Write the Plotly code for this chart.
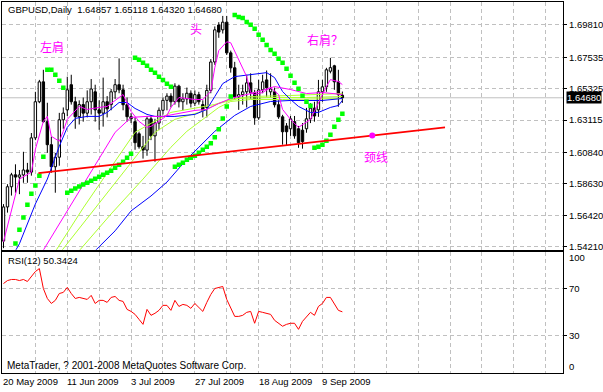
import plotly.graph_objects as go

# ---------------- data ----------------
date_labels = ["20 May 2009", "11 Jun 2009", "3 Jul 2009", "27 Jul 2009", "18 Aug 2009", "9 Sep 2009"]
date_label_bars = [0, 16, 32, 48, 64, 80]

opens = [1.5460, 1.5700, 1.5842, 1.5926, 1.5910, 1.5925, 1.5960, 1.5945, 1.6186, 1.6440,
         1.6580, 1.6300, 1.6138, 1.5983, 1.6050, 1.6313, 1.6383, 1.6560, 1.6440, 1.6335,
         1.6420, 1.6360, 1.6440, 1.6510, 1.6383, 1.6360, 1.6440, 1.6420, 1.6510, 1.6560,
         1.6524, 1.6419, 1.6335, 1.6300, 1.6215, 1.6124, 1.6100, 1.6320, 1.6200, 1.6290,
         1.6380, 1.6450, 1.6480, 1.6440, 1.6550, 1.6440, 1.6460, 1.6500, 1.6430, 1.6490,
         1.6420, 1.6400, 1.6520, 1.6720, 1.6980, 1.6946, 1.7000, 1.6784, 1.6679, 1.6475,
         1.6490, 1.6510, 1.6573, 1.6503, 1.6327, 1.6524, 1.6594, 1.6510, 1.6510, 1.6419,
         1.6334, 1.6270, 1.6250, 1.6300, 1.6250, 1.6240, 1.6250, 1.6320, 1.6395, 1.6383,
         1.6510, 1.6545, 1.6655, 1.6693, 1.6580, 1.64857]
highs = [1.5720, 1.5860, 1.5940, 1.6000, 1.5960, 1.6088, 1.6010, 1.6220, 1.6510, 1.6594,
         1.6665, 1.6433, 1.6194, 1.6080, 1.6362, 1.6400, 1.6616, 1.6630, 1.6475, 1.6450,
         1.6470, 1.6520, 1.6600, 1.6560, 1.6450, 1.6610, 1.6480, 1.6530, 1.6600, 1.6745,
         1.6560, 1.6470, 1.6360, 1.6330, 1.6230, 1.6200, 1.6340, 1.6345, 1.6320, 1.6400,
         1.6470, 1.6500, 1.6500, 1.6570, 1.6560, 1.6500, 1.6540, 1.6520, 1.6520, 1.6510,
         1.6450, 1.6560, 1.6740, 1.6970, 1.7000, 1.7044, 1.7044, 1.6800, 1.6721, 1.6560,
         1.6560, 1.6630, 1.6640, 1.6524, 1.6594, 1.6630, 1.6660, 1.6640, 1.6540, 1.6450,
         1.6348, 1.6290, 1.6340, 1.6340, 1.6270, 1.6290, 1.6397, 1.6430, 1.6440, 1.6594,
         1.6594, 1.6679, 1.6749, 1.6700, 1.6665, 1.65118]
lows = [1.5410, 1.5660, 1.5780, 1.5800, 1.5790, 1.5870, 1.5870, 1.5920, 1.6170, 1.6430,
        1.6293, 1.6081, 1.5941, 1.5800, 1.5990, 1.6250, 1.6340, 1.6420, 1.6250, 1.6280,
        1.6300, 1.6330, 1.6350, 1.6300, 1.6243, 1.6265, 1.6330, 1.6380, 1.6460, 1.6500,
        1.6380, 1.6300, 1.6290, 1.6102, 1.6110, 1.6040, 1.6060, 1.6170, 1.6018, 1.6240,
        1.6350, 1.6380, 1.6400, 1.6420, 1.6400, 1.6380, 1.6420, 1.6400, 1.6410, 1.6420,
        1.6330, 1.6330, 1.6500, 1.6700, 1.6890, 1.6920, 1.6770, 1.6645, 1.6454, 1.6383,
        1.6420, 1.6400, 1.6460, 1.6278, 1.6313, 1.6500, 1.6475, 1.6470, 1.6400, 1.6320,
        1.6138, 1.6131, 1.6200, 1.6180, 1.6116, 1.6110, 1.6222, 1.6290, 1.6300, 1.6334,
        1.6440, 1.6510, 1.6640, 1.6524, 1.6405, 1.64320]
closes = [1.5700, 1.5842, 1.5926, 1.5910, 1.5925, 1.5960, 1.5945, 1.6186, 1.6440, 1.6580,
          1.6300, 1.6138, 1.5983, 1.6050, 1.6313, 1.6360, 1.6524, 1.6440, 1.6335, 1.6420,
          1.6360, 1.6440, 1.6530, 1.6383, 1.6360, 1.6440, 1.6390, 1.6510, 1.6560, 1.6524,
          1.6419, 1.6335, 1.6320, 1.6152, 1.6124, 1.6100, 1.6320, 1.6200, 1.6290, 1.6380,
          1.6450, 1.6480, 1.6440, 1.6550, 1.6440, 1.6460, 1.6500, 1.6430, 1.6490, 1.6440,
          1.6380, 1.6520, 1.6720, 1.6946, 1.6930, 1.7000, 1.6784, 1.6679, 1.6475, 1.6490,
          1.6510, 1.6573, 1.6503, 1.6327, 1.6524, 1.6580, 1.6538, 1.6530, 1.6419, 1.6334,
          1.6229, 1.6229, 1.6320, 1.6200, 1.6152, 1.6160, 1.6320, 1.6395, 1.6340, 1.6510,
          1.6545, 1.6665, 1.6680, 1.6580, 1.6490, 1.64680]

# moving averages (bar index, price)
ma_fast_bars = [0, 2, 4, 7, 8, 10, 11, 12, 14, 15, 16, 19, 21, 24, 26, 29, 30, 32, 34, 36, 37, 39, 41, 42,
                44, 48, 50, 52, 53, 54, 56, 57, 59, 61, 62, 63, 65, 67, 69, 70, 72, 74, 77, 79, 81, 82, 84, 85]
ma_fast_vals = [1.5455, 1.5686, 1.5896, 1.5945, 1.6106, 1.6302, 1.6337, 1.6197, 1.6162, 1.6232, 1.6316,
                1.6407, 1.6386, 1.6400, 1.6407, 1.6470, 1.6491, 1.6372, 1.6302, 1.6260, 1.6267, 1.6302,
                1.6344, 1.6400, 1.6470, 1.6456, 1.6456, 1.6512, 1.6680, 1.6800, 1.6862, 1.6855, 1.6736,
                1.6617, 1.6505, 1.6491, 1.6505, 1.6540, 1.6491, 1.6386, 1.6316, 1.6260, 1.6316, 1.6435,
                1.6547, 1.6596, 1.6582, 1.6561]
ma_slow_bars = [9, 20, 28, 32, 36, 40, 44, 48, 51, 54, 57, 60, 64, 68, 72, 76, 80, 85]
ma_slow_vals = [1.5350, 1.5861, 1.6225, 1.6330, 1.6337, 1.6337, 1.6358, 1.6379, 1.6386, 1.6428, 1.6463,
                1.6484, 1.6512, 1.6547, 1.6526, 1.6498, 1.6505, 1.6491]
blue_fast_bars = [3, 4, 8, 11, 14, 16, 18, 21, 24, 26, 29, 31, 33, 36, 38, 43, 48, 51, 53, 55, 58, 62,
                  66, 68, 70, 72, 74, 77, 79, 82, 84, 85]
blue_fast_vals = [1.5392, 1.5441, 1.5721, 1.5896, 1.6127, 1.6260, 1.6323, 1.6337, 1.6337, 1.6365, 1.6435,
                  1.6435, 1.6393, 1.6351, 1.6337, 1.6337, 1.6351, 1.6386, 1.6477, 1.6568, 1.6617, 1.6631,
                  1.6645, 1.6610, 1.6512, 1.6456, 1.6407, 1.6365, 1.6365, 1.6400, 1.6414, 1.6449]
blue_slow_bars = [22, 28, 32, 37, 41, 46, 49, 53, 58, 62, 67, 72, 80, 85]
blue_slow_vals = [1.5364, 1.5532, 1.5672, 1.5777, 1.5875, 1.6036, 1.6120, 1.6232, 1.6344, 1.6407, 1.6442,
                  1.6449, 1.6449, 1.6463]
yg1_bars = [12, 20, 27, 33, 37, 42, 49, 53, 57, 62, 72, 80, 85]
yg1_vals = [1.5343, 1.5693, 1.5980, 1.6225, 1.6288, 1.6365, 1.6400, 1.6421, 1.6456, 1.6477, 1.6484, 1.6491, 1.6498]
yg2_bars = [14, 22, 30, 38, 43, 49, 54, 59, 67, 76, 85]
yg2_vals = [1.5371, 1.5658, 1.5945, 1.6225, 1.6316, 1.6365, 1.6428, 1.6463, 1.6470, 1.6470, 1.6477]
yg3_bars = [19, 27, 35, 42, 46, 50, 54, 57, 62, 70, 85]
yg3_vals = [1.5392, 1.5651, 1.5896, 1.6120, 1.6232, 1.6316, 1.6400, 1.6442, 1.6456, 1.6456, 1.6463]

sar = [None, None, None, 1.5442, 1.5540, 1.5625, 1.5716, 1.5793, 1.5850, 1.5920,
       1.6053, 1.6665, 1.6665, 1.6630, 1.6587, 1.6538, 1.5800, 1.5814, 1.5829, 1.5843,
       1.5857, 1.5871, 1.5885, 1.5899, 1.5913, 1.5927, 1.5941, 1.5955, 1.5976, 1.5997,
       1.6018, 1.6046, 1.6074, 1.6749, 1.6735, 1.6714, 1.6693, 1.6665, 1.6644, 1.6616,
       1.6594, 1.6566, 1.6545, 1.5983, 1.5997, 1.6011, 1.6032, 1.6046, 1.6060, 1.6081,
       1.6102, 1.6124, 1.6148, 1.6190, 1.6246, 1.6323, 1.6407, 1.6477, 1.7051, 1.7037,
       1.7030, 1.7002, 1.6981, 1.6953, 1.6911, 1.6876, 1.6840, 1.6805, 1.6777, 1.6742,
       1.6714, 1.6672, 1.6623, 1.6573, 1.6531, 1.6482, 1.6440, 1.6412, 1.6117, 1.6124,
       1.6138, 1.6166, 1.6208, 1.6264, 1.6313, 1.6355]

rsi = [74.2, 76.7, 77.6, 77.6, 76.7, 77.6, 75.9, 80.1, 84.3, 86.8,
       70.0, 61.6, 57.4, 60.0, 65.8, 66.7, 70.9, 65.8, 61.6, 62.5,
       61.6, 60.8, 64.2, 57.4, 60.0, 60.0, 58.3, 62.5, 63.3, 60.0,
       59.1, 52.4, 50.7, 48.2, 44.0, 39.8, 52.4, 47.4, 49.1, 51.6,
       55.8, 55.8, 51.6, 60.0, 54.9, 56.6, 55.8, 53.3, 57.4, 54.1,
       50.7, 58.3, 65.0, 70.0, 70.9, 71.7, 60.8, 53.3, 46.5, 46.5,
       47.4, 49.9, 50.7, 40.7, 50.7, 49.9, 49.1, 48.2, 43.2, 40.7,
       38.2, 39.8, 40.7, 40.7, 35.6, 42.3, 46.5, 49.9, 47.4, 54.9,
       57.4, 62.5, 62.5, 57.4, 51.6, 50.3424]

neck_bars = [8.75, 110.75]
neck_vals = [1.5938, 1.6260]
neck_dot_bar = [92.5]
neck_dot_val = [1.6202]

price_ticks = [1.54210, 1.56420, 1.58630, 1.60840, 1.63115, 1.65325, 1.67535, 1.69810]
rsi_ticks = [30, 70]

# ---------------- figure ----------------
W, H = 603, 392
n = len(closes)
bars = list(range(n))
FONT = "Liberation Sans"

def px_x(p):
    return p / W

def px_y(p):
    return (H - p) / H

fig = go.Figure()

# candle bodies
body_base = [min(o, c) for o, c in zip(opens, closes)]
body_h = [max(abs(c - o), 0.00006) for o, c in zip(opens, closes)]
body_col = ["white" if c >= o else "black" for o, c in zip(opens, closes)]
fig.add_trace(go.Bar(x=bars, y=body_h, base=body_base, width=0.6,
                     marker=dict(color=body_col, line=dict(color="black", width=1)),
                     xaxis="x", yaxis="y", showlegend=False, hoverinfo="skip"))

# wicks (drawn above/below the body only)
wx, wy = [], []
for i, (o, h, l, c) in enumerate(zip(opens, highs, lows, closes)):
    top, bot = max(o, c), min(o, c)
    wx += [i, i, None, i, i, None]
    wy += [h, top, None, bot, l, None]
fig.add_trace(go.Scatter(x=wx, y=wy, mode="lines", line=dict(color="black", width=1),
                         xaxis="x", yaxis="y", showlegend=False, hoverinfo="skip"))

def add_line(bx, vals, color, width=1):
    fig.add_trace(go.Scatter(x=bx, y=vals, mode="lines", line=dict(color=color, width=width),
                             xaxis="x", yaxis="y", showlegend=False, hoverinfo="skip"))

add_line(yg3_bars, yg3_vals, "#ADFF2F")
add_line(yg2_bars, yg2_vals, "#ADFF2F")
add_line(yg1_bars, yg1_vals, "#ADFF2F")
add_line(blue_slow_bars, blue_slow_vals, "#0000FF")
add_line(blue_fast_bars, blue_fast_vals, "#0000FF")
add_line(ma_slow_bars, ma_slow_vals, "#FF00FF")
add_line(ma_fast_bars, ma_fast_vals, "#FF00FF")

# parabolic SAR
fig.add_trace(go.Scatter(x=bars, y=sar, mode="markers",
                         marker=dict(symbol="square", size=4.5, color="#00FF00", line=dict(width=0)),
                         xaxis="x", yaxis="y", showlegend=False, hoverinfo="skip"))

# neckline
fig.add_trace(go.Scatter(x=neck_bars, y=neck_vals, mode="lines", line=dict(color="#FF0000", width=1.6),
                         xaxis="x", yaxis="y", showlegend=False, hoverinfo="skip"))
fig.add_trace(go.Scatter(x=neck_dot_bar, y=neck_dot_val, mode="markers",
                         marker=dict(symbol="circle", size=6, color="#FF00FF"),
                         xaxis="x", yaxis="y", showlegend=False, hoverinfo="skip"))

# RSI
fig.add_trace(go.Scatter(x=bars, y=rsi, mode="lines", line=dict(color="#FF0000", width=1),
                         xaxis="x2", yaxis="y2", showlegend=False, hoverinfo="skip"))

grid = dict(color="#C0C0C0", dash="4px,3px")
x_grid = list(range(8, 141, 8))
x_range = [-0.375, 140.375]
x_dom = [px_x(2), px_x(565)]

fig.update_layout(
    width=W, height=H, margin=dict(l=0, r=0, t=0, b=0),
    paper_bgcolor="white", plot_bgcolor="white", barmode="overlay",
    font=dict(family=FONT, size=9, color="black"),
    xaxis=dict(domain=x_dom, range=x_range, anchor="y", tickmode="array", tickvals=x_grid,
               showticklabels=False, ticks="", showgrid=True, gridcolor=grid["color"],
               griddash=grid["dash"], gridwidth=1, showline=True, mirror=True,
               linecolor="black", linewidth=1, zeroline=False, fixedrange=True),
    xaxis2=dict(domain=x_dom, range=x_range, anchor="y2", matches="x", tickmode="array",
                tickvals=x_grid, showticklabels=False, ticks="", showgrid=True,
                gridcolor=grid["color"], griddash=grid["dash"], showline=True, mirror=True,
                linecolor="black", linewidth=1, zeroline=False),
    xaxis3=dict(domain=x_dom, range=x_range, anchor="y2", overlaying="x2", matches="x",
                tickmode="array", tickvals=date_label_bars, showticklabels=False,
                ticks="outside", ticklen=3, tickcolor="black", showgrid=False, showline=False,
                zeroline=False),
    yaxis=dict(domain=[px_y(251), px_y(2)], range=[1.5399, 1.7142], anchor="x", side="right",
               tickmode="array", tickvals=price_ticks, ticktext=["%.5f" % v for v in price_ticks],
               ticks="outside", ticklen=3, tickcolor="black", showgrid=True,
               gridcolor=grid["color"], griddash=grid["dash"], showline=True, mirror=True,
               linecolor="black", linewidth=1, zeroline=False, tickfont=dict(size=9.5)),
    yaxis2=dict(domain=[px_y(375), px_y(253)], range=[-1.26, 101.0], anchor="x2", side="right",
                tickmode="array", tickvals=rsi_ticks, ticktext=[str(v) for v in rsi_ticks],
                ticks="outside", ticklen=3, tickcolor="black", showgrid=True,
                gridcolor=grid["color"], griddash=grid["dash"], showline=True, mirror=True,
                linecolor="black", linewidth=1, zeroline=False, tickfont=dict(size=9.5)),
)

# current price line
fig.add_shape(type="line", xref="paper", yref="y", x0=px_x(2), x1=px_x(565),
              y0=closes[-1], y1=closes[-1], line=dict(color="#C0C0C0", width=1), layer="below")

ann = []
# header texts
ann.append(dict(text="GBPUSD,Daily  %.5f %.5f %.5f %.5f" % (opens[-1], highs[-1], lows[-1], closes[-1]),
                xref="paper", yref="paper", x=px_x(6), y=px_y(10), xanchor="left", yanchor="middle",
                showarrow=False, font=dict(size=9.5, color="black")))
ann.append(dict(text="RSI(12) %.4f" % rsi[-1], xref="paper", yref="paper", x=px_x(6), y=px_y(262),
                xanchor="left", yanchor="middle", showarrow=False, font=dict(size=9.5)))
ann.append(dict(text="MetaTrader, ? 2001-2008 MetaQuotes Software Corp.", xref="paper", yref="paper",
                x=px_x(5), y=px_y(367), xanchor="left", yanchor="middle", showarrow=False,
                font=dict(size=10)))
# RSI 100 / 0 labels
ann.append(dict(text="100", xref="paper", yref="paper", x=px_x(569), y=px_y(259), xanchor="left",
                yanchor="middle", showarrow=False, font=dict(size=9.5)))
ann.append(dict(text="0", xref="paper", yref="paper", x=px_x(569), y=px_y(368), xanchor="left",
                yanchor="middle", showarrow=False, font=dict(size=9.5)))
# date labels (left-aligned at tick)
for b, t in zip(date_label_bars, date_labels):
    ann.append(dict(text=t, xref="x", yref="paper", x=b, y=px_y(383), xanchor="left", yanchor="middle",
                    xshift=-2, showarrow=False, font=dict(size=9.5)))
# current price tag
ann.append(dict(text="%.5f" % closes[-1], xref="paper", yref="y", x=px_x(568), y=closes[-1],
                xanchor="left", yanchor="middle", showarrow=False, bgcolor="black",
                font=dict(size=9.5, color="white"), borderpad=0, height=11))
# Chinese pattern labels
cjk = dict(family="Noto Sans CJK SC", size=12, color="#FF00FF")
ann.append(dict(text="左肩", x=12.25, y=1.6827, xref="x", yref="y", showarrow=False, font=cjk))
ann.append(dict(text="头", x=48.25, y=1.6953, xref="x", yref="y", showarrow=False, font=cjk))
ann.append(dict(text="右肩？", x=80.75, y=1.6876, xref="x", yref="y", showarrow=False, font=cjk))
ann.append(dict(text="颈线", x=93.5, y=1.6057, xref="x", yref="y", showarrow=False, font=cjk))
fig.update_layout(annotations=ann)

fig.write_html("out.html", config={"displayModeBar": False, "staticPlot": True},
               post_script="document.body.style.margin='0px';document.body.style.overflow='hidden';")
